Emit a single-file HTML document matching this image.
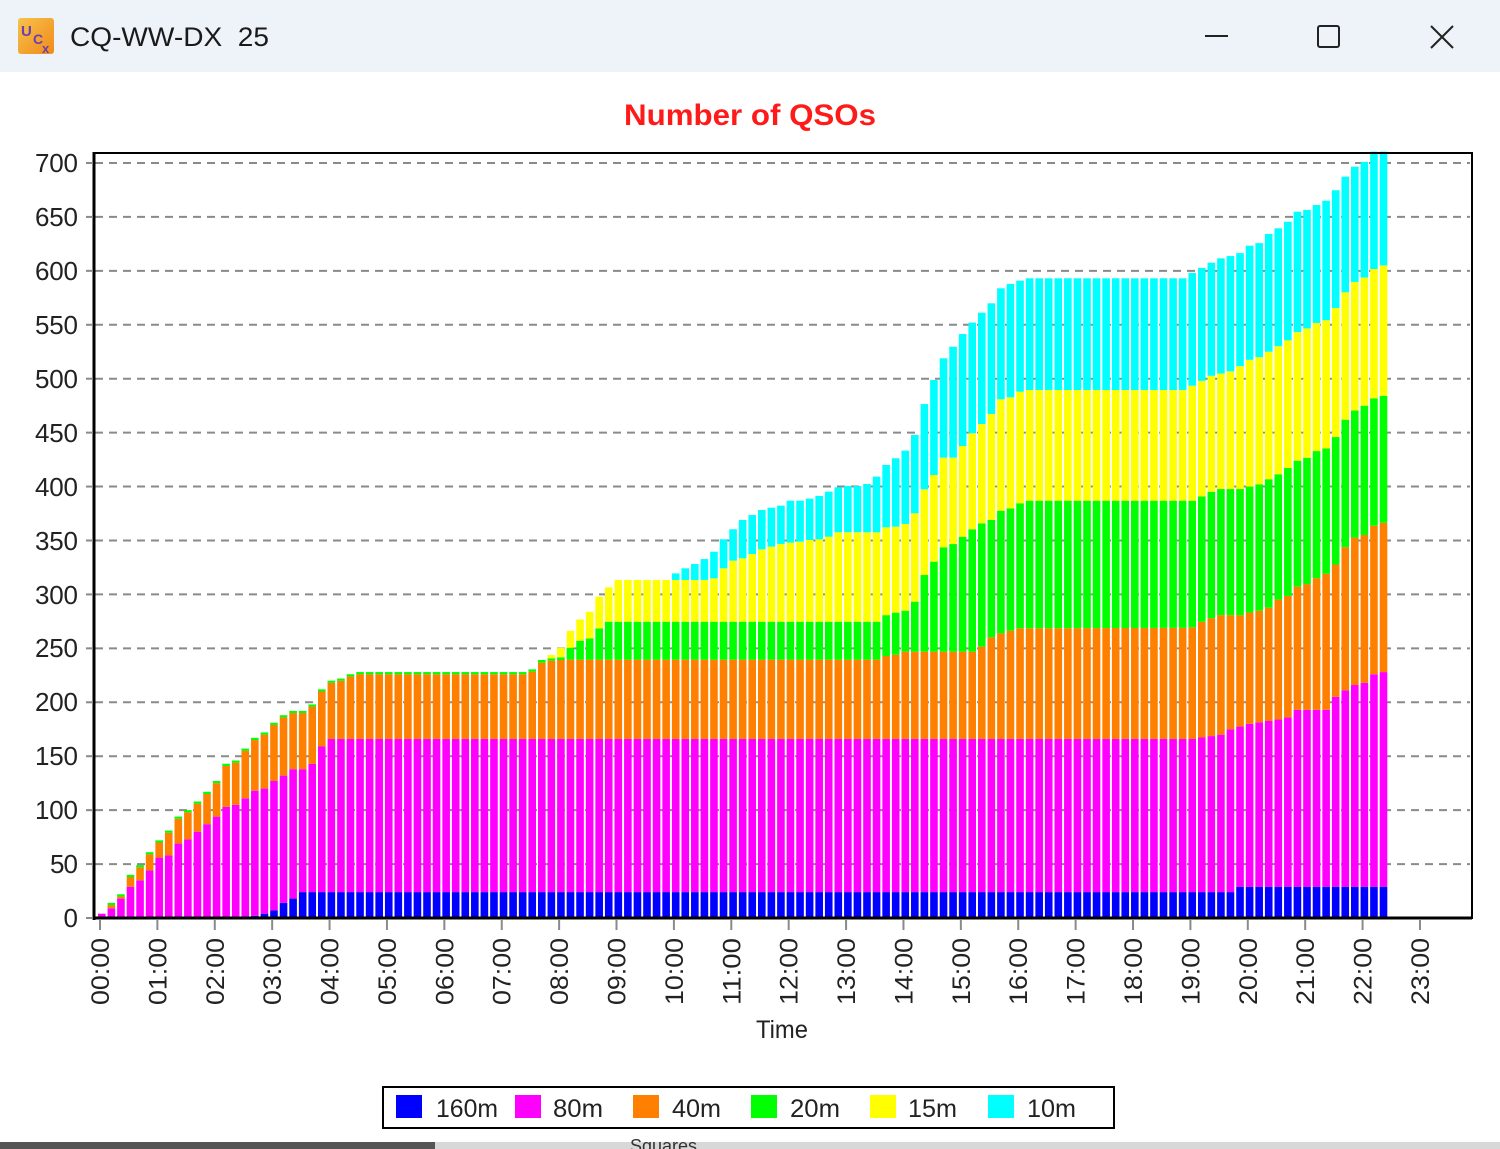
<!DOCTYPE html>
<html><head><meta charset="utf-8"><style>
html,body{margin:0;padding:0;background:#fff;width:1500px;height:1149px;overflow:hidden}
svg{display:block}
text{font-family:"Liberation Sans",Arial,sans-serif}
</style></head><body>
<svg id="s" width="1500" height="1149" viewBox="0 0 1500 1149" xmlns="http://www.w3.org/2000/svg">
<rect x="0" y="0" width="1500" height="1149" fill="#ffffff"/>
<rect x="0" y="0" width="1500" height="72" fill="#eef2f9"/>
<defs><linearGradient id="ig" x1="0" y1="0" x2="1" y2="1"><stop offset="0" stop-color="#f7c24a"/><stop offset="1" stop-color="#f08a1c"/></linearGradient></defs>
<rect x="18" y="18" width="36" height="36" rx="3" fill="url(#ig)"/>
<text x="21" y="36" font-size="15" fill="#6a3fb0" font-weight="bold">U</text>
<text x="33" y="44" font-size="14" fill="#6a3fb0" font-weight="bold">C</text>
<text x="42" y="53" font-size="13" fill="#6a3fb0" font-weight="bold">x</text>
<text x="70" y="46" font-size="27" fill="#1a1a1a" textLength="199" lengthAdjust="spacingAndGlyphs">CQ-WW-DX&#160; 25</text>
<line x1="1205" y1="36" x2="1228" y2="36" stroke="#222" stroke-width="2"/>
<rect x="1318" y="26" width="21" height="21" fill="none" stroke="#222" stroke-width="2" rx="2"/>
<line x1="1431" y1="26" x2="1453" y2="48" stroke="#222" stroke-width="2"/>
<line x1="1453" y1="26" x2="1431" y2="48" stroke="#222" stroke-width="2"/>

<text x="750" y="125" font-size="30" font-weight="bold" fill="#ff1a1a" text-anchor="middle" textLength="252" lengthAdjust="spacingAndGlyphs">Number of QSOs</text>

<g id="grid" stroke="#8a8a8a" stroke-width="2" stroke-dasharray="8,6"></g>
<g id="bars"></g>
<rect x="94" y="153" width="1378" height="765" fill="none" stroke="#000" stroke-width="2"/>
<line x1="94" y1="152" x2="94" y2="920" stroke="#000" stroke-width="3"/>
<line x1="93" y1="918" x2="1472" y2="918" stroke="#000" stroke-width="3"/>
<g id="ticks" stroke="#8a8a8a" stroke-width="2"></g>

<g font-size="26" fill="#222" text-anchor="end" lengthAdjust="spacingAndGlyphs">
<text x="78" y="172" textLength="43">700</text>
<text x="78" y="226" textLength="43">650</text>
<text x="78" y="280" textLength="43">600</text>
<text x="78" y="334" textLength="43">550</text>
<text x="78" y="388" textLength="43">500</text>
<text x="78" y="442" textLength="43">450</text>
<text x="78" y="496" textLength="43">400</text>
<text x="78" y="550" textLength="43">350</text>
<text x="78" y="604" textLength="43">300</text>
<text x="78" y="657" textLength="43">250</text>
<text x="78" y="711" textLength="43">200</text>
<text x="78" y="765" textLength="43">150</text>
<text x="78" y="819" textLength="43">100</text>
<text x="78" y="873" textLength="28">50</text>
<text x="78" y="927" textLength="14">0</text>
</g>

<g font-size="25" fill="#222" text-anchor="end">
<text transform="translate(109,938) rotate(-90)" textLength="67" lengthAdjust="spacingAndGlyphs">00:00</text>
<text transform="translate(166.4,938) rotate(-90)" textLength="67" lengthAdjust="spacingAndGlyphs">01:00</text>
<text transform="translate(223.8,938) rotate(-90)" textLength="67" lengthAdjust="spacingAndGlyphs">02:00</text>
<text transform="translate(281.2,938) rotate(-90)" textLength="67" lengthAdjust="spacingAndGlyphs">03:00</text>
<text transform="translate(338.6,938) rotate(-90)" textLength="67" lengthAdjust="spacingAndGlyphs">04:00</text>
<text transform="translate(396,938) rotate(-90)" textLength="67" lengthAdjust="spacingAndGlyphs">05:00</text>
<text transform="translate(453.3,938) rotate(-90)" textLength="67" lengthAdjust="spacingAndGlyphs">06:00</text>
<text transform="translate(510.7,938) rotate(-90)" textLength="67" lengthAdjust="spacingAndGlyphs">07:00</text>
<text transform="translate(568.1,938) rotate(-90)" textLength="67" lengthAdjust="spacingAndGlyphs">08:00</text>
<text transform="translate(625.5,938) rotate(-90)" textLength="67" lengthAdjust="spacingAndGlyphs">09:00</text>
<text transform="translate(682.9,938) rotate(-90)" textLength="67" lengthAdjust="spacingAndGlyphs">10:00</text>
<text transform="translate(740.3,938) rotate(-90)" textLength="67" lengthAdjust="spacingAndGlyphs">11:00</text>
<text transform="translate(797.7,938) rotate(-90)" textLength="67" lengthAdjust="spacingAndGlyphs">12:00</text>
<text transform="translate(855.1,938) rotate(-90)" textLength="67" lengthAdjust="spacingAndGlyphs">13:00</text>
<text transform="translate(912.5,938) rotate(-90)" textLength="67" lengthAdjust="spacingAndGlyphs">14:00</text>
<text transform="translate(969.9,938) rotate(-90)" textLength="67" lengthAdjust="spacingAndGlyphs">15:00</text>
<text transform="translate(1027.2,938) rotate(-90)" textLength="67" lengthAdjust="spacingAndGlyphs">16:00</text>
<text transform="translate(1084.6,938) rotate(-90)" textLength="67" lengthAdjust="spacingAndGlyphs">17:00</text>
<text transform="translate(1142,938) rotate(-90)" textLength="67" lengthAdjust="spacingAndGlyphs">18:00</text>
<text transform="translate(1199.4,938) rotate(-90)" textLength="67" lengthAdjust="spacingAndGlyphs">19:00</text>
<text transform="translate(1256.8,938) rotate(-90)" textLength="67" lengthAdjust="spacingAndGlyphs">20:00</text>
<text transform="translate(1314.2,938) rotate(-90)" textLength="67" lengthAdjust="spacingAndGlyphs">21:00</text>
<text transform="translate(1371.6,938) rotate(-90)" textLength="67" lengthAdjust="spacingAndGlyphs">22:00</text>
<text transform="translate(1429,938) rotate(-90)" textLength="67" lengthAdjust="spacingAndGlyphs">23:00</text>
</g>
<text x="782" y="1038" font-size="25" fill="#222" text-anchor="middle" textLength="52" lengthAdjust="spacingAndGlyphs">Time</text>

<rect x="383" y="1087" width="731" height="41" fill="#fff" stroke="#000" stroke-width="2"/>
<g font-size="25" fill="#222">
<rect x="396" y="1095" width="26" height="23" fill="#0000ff"/><text x="436" y="1117" textLength="62" lengthAdjust="spacingAndGlyphs">160m</text>
<rect x="515" y="1095" width="26" height="23" fill="#ff00ff"/><text x="553" y="1117" textLength="50" lengthAdjust="spacingAndGlyphs">80m</text>
<rect x="633" y="1095" width="26" height="23" fill="#ff8000"/><text x="672" y="1117" textLength="49" lengthAdjust="spacingAndGlyphs">40m</text>
<rect x="751" y="1095" width="26" height="23" fill="#00ff00"/><text x="790" y="1117" textLength="50" lengthAdjust="spacingAndGlyphs">20m</text>
<rect x="870" y="1095" width="26" height="23" fill="#ffff00"/><text x="908" y="1117" textLength="49" lengthAdjust="spacingAndGlyphs">15m</text>
<rect x="988" y="1095" width="26" height="23" fill="#00ffff"/><text x="1027" y="1117" textLength="49" lengthAdjust="spacingAndGlyphs">10m</text>
</g>
<rect x="0" y="1142" width="1500" height="7" fill="#d8d8d8"/>
<rect x="0" y="1142" width="435" height="7" fill="#555"/>
<text x="630" y="1152" font-size="18" fill="#333">Squares</text>
</svg>
<script>
(function(){
var NS="http://www.w3.org/2000/svg",N=135;
function el(p,t,a){var e=document.createElementNS(NS,t);for(var k in a)e.setAttribute(k,a[k]);p.appendChild(e);return e;}
function interp(pts){var a=[];for(var i=0;i<N;i++){var v;if(i<=pts[0][0])v=pts[0][1];else if(i>=pts[pts.length-1][0])v=pts[pts.length-1][1];else{for(var j=0;j<pts.length-1;j++){if(i>=pts[j][0]&&i<=pts[j+1][0]){var t=(i-pts[j][0])/(pts[j+1][0]-pts[j][0]);v=pts[j][1]+t*(pts[j+1][1]-pts[j][1]);break;}}}a.push(v);}return a;}
function early(arr){return arr.map(function(v,i){return[i,v];});}
var T1=interp([[0,0],[15,0],[16,2],[17,4],[18,7],[19,14],[20,18],[21,24],[118,24],[119,29],[134,29]]);
var T2=interp(early([4,9,18,29,35,44,56,58,69,73,80,87,94,103,105,111,118,120,127,132,138,138,143,159,166]).concat([[114,166],[117,170],[118,175],[120,180],[123,184],[124,186],[125,193],[128,193],[129,205],[130,211],[131,216],[132,218],[133,226],[134,228]]));
var T3=interp(early([4,12,20,38,47,59,70,79,92,98,106,115,125,141,144,155,165,170,179,186,190,190,196,210,218,220,224]).concat([[27,226],[44,226],[45,228.4],[46,236.7],[47,238.5],[48,239.2],[49,239.5],[81,239.5],[82,242.9],[83,244],[84,246.9],[91,246.9],[92,251.6],[93,260.2],[94,263.9],[95,266.4],[96,268.6],[113,269],[114,269.5],[115,274.6],[116,278],[117,280.8],[119,280.8],[120,283.2],[121,284.9],[122,287.7],[123,295.2],[124,298.6],[125,307.2],[126,309.6],[127,315.1],[128,319.2],[129,327.7],[130,343.8],[131,352.7],[132,355.1],[133,363.7],[134,366.4]]));
var g4=interp([[45,230.5],[46,239.2],[47,240.7],[48,241.7],[49,250.6],[50,257.1],[51,259.2],[52,268.5],[53,274.7],[81,274.7],[82,280.8],[83,283.1],[84,284.9],[85,293.3],[86,318],[87,330.4],[88,343.7],[89,346.7],[90,353.5],[91,360.4],[92,365.9],[93,369],[94,377.6],[95,379.8],[96,384.5],[97,386.9],[114,386.9],[115,390.8],[116,395.2],[117,397.7],[119,397.7],[120,400],[121,402],[122,406.8],[123,411.4],[124,417.2],[125,424],[126,426.7],[127,432.9],[128,435.3],[129,445.9],[130,462],[131,470.5],[132,475],[133,481.8],[134,484.2]]);
var T4=[];for(var i=0;i<N;i++)T4.push(i<=44?T3[i]+(i?2:0):g4[i]);
var g5=interp([[47,243.8],[48,250.6],[49,266.1],[50,276.8],[51,283.9],[52,297.9],[53,306.6],[54,313.4],[63,313.4],[64,314.9],[65,324.2],[66,331.3],[67,333.5],[68,337.5],[69,341.8],[70,344.3],[71,346.8],[72,348],[73,348.9],[74,350.5],[75,351.1],[76,353.5],[77,357.6],[81,357.6],[82,362.2],[83,362.8],[84,365.3],[85,375.2],[86,397.4],[87,410.7],[88,426.8],[89,426.8],[90,437.6],[91,449.4],[92,458],[93,467.3],[94,480.9],[95,482.7],[96,488],[97,489.5],[113,489.5],[114,493.5],[115,498],[116,502.7],[117,504.8],[118,506.8],[119,511.6],[120,517.5],[121,520],[122,525],[123,530.1],[124,535.6],[125,543.2],[126,546.6],[127,551.7],[128,554.2],[129,565.5],[130,580.1],[131,589.7],[132,593.8],[133,601.7],[134,605]]);
var T5=[];for(i=0;i<N;i++)T5.push(i<=46?T4[i]:g5[i]);
var g6=interp([[60,319.5],[61,324.2],[62,328.2],[63,332.8],[64,339.6],[65,351.1],[66,360.4],[67,369],[68,373.6],[69,378.3],[70,380.4],[71,382.3],[72,386.9],[73,386.9],[74,388.8],[75,391.3],[76,395.3],[77,399.3],[78,400.5],[79,400.5],[80,402.4],[81,409.2],[82,420],[83,426.2],[84,433.3],[85,447.8],[86,476.5],[87,498.8],[88,518.9],[89,529.7],[90,541.4],[91,552],[92,561.2],[93,569.9],[94,583.8],[95,587.8],[96,590.9],[97,593.1],[113,593.1],[114,598],[115,602.7],[116,607.5],[117,611.6],[118,613.7],[119,616.4],[120,623.3],[121,625.7],[122,634.2],[123,639.4],[124,645.5],[125,654.8],[126,656.5],[127,661],[128,665],[129,674.7],[130,687.3],[131,696.6],[132,701],[133,712],[134,712]]);
var T6=[];for(i=0;i<N;i++)T6.push(i<=59?T5[i]:g6[i]);
var grid=document.getElementById('grid');
for(var v=50;v<=700;v+=50){var y=918-v*1.0786;el(grid,'line',{x1:95,y1:y,x2:1470,y2:y});}
var tk=document.getElementById('ticks');
for(v=0;v<=700;v+=50){y=918-v*1.0786;el(tk,'line',{x1:86,y1:y,x2:93,y2:y});}
for(var h=0;h<=23;h++){var x=100+h*57.39;el(tk,'line',{x1:x,y1:920,x2:x,y2:930});}
var bars=document.getElementById('bars');
var L=[T1,T2,T3,T4,T5,T6],C=['#0000ff','#ff00ff','#ff8000','#00ff00','#ffff00','#00ffff'];
function Y(v){v=Math.min(v,710.5);return 918-v*1.0786;}
for(i=0;i<N;i++){var bx=98+i*9.565,prev=0;
 for(var b=0;b<6;b++){var cur=L[b][i];if(cur<prev)cur=prev;if(cur-prev>0.05){var y1=Y(cur),y0=Y(prev);el(bars,'rect',{x:bx.toFixed(2),y:y1.toFixed(2),width:7.6,height:(y0-y1).toFixed(2),fill:C[b]});}prev=cur;}
}
})();
</script>
</body></html>
